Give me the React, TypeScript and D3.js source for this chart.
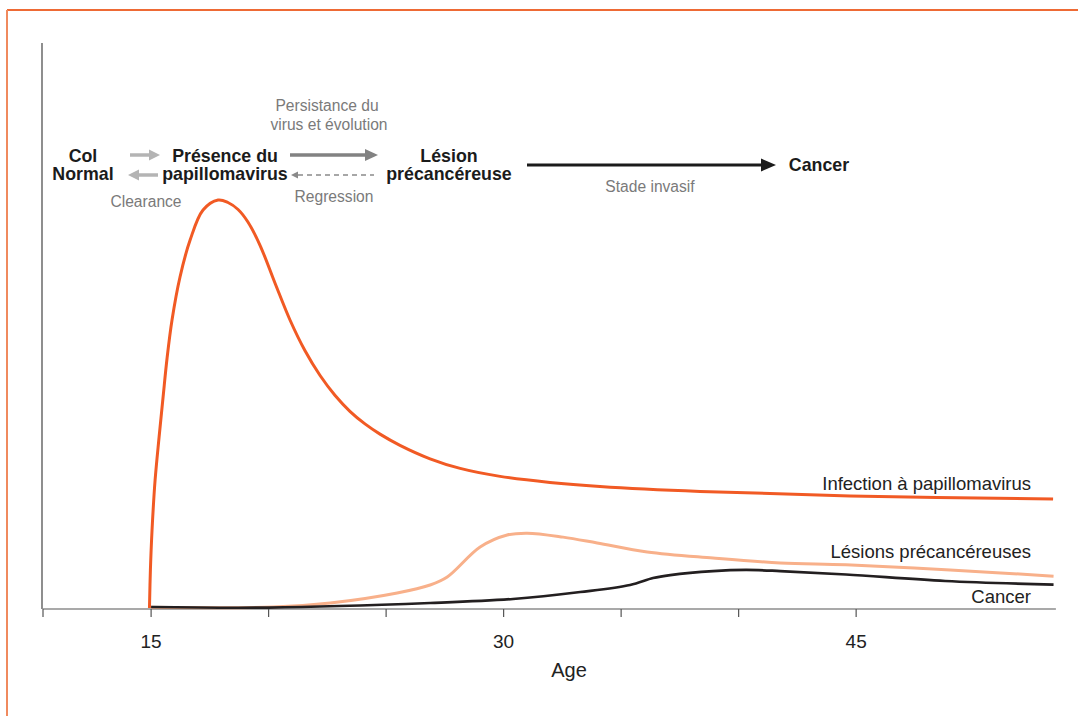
import React from "react";
import * as d3 from "d3";

// ---- Data (age in years, relative level) ----
const infectionAge = [14.93, 14.97, 15.04, 15.17, 15.34, 15.51, 15.68, 15.89, 16.23, 16.66, 17.21, 17.85, 18.27, 18.7, 19.12, 19.63, 20.27, 20.91, 21.55, 22.19, 22.83, 23.46, 24.1, 24.74, 25.59, 26.87, 28.15, 29.85, 31.97, 34.1, 38.36, 44.74, 53.38];
const infectionVal = [0.18, 6.89, 13.96, 22.79, 30.39, 37.46, 44.35, 51.06, 58.66, 65.19, 70.49, 72.26, 71.82, 70.58, 68.37, 64.31, 57.6, 51.06, 45.62, 41.25, 37.72, 34.93, 32.7, 30.9, 28.92, 26.54, 24.84, 23.43, 22.37, 21.66, 20.78, 19.98, 19.42];

const lesionAge = [15, 20.19, 22.62, 25.47, 26.87, 27.6, 29.0, 30.15, 31.0, 32.53, 33.98, 36.11, 38.91, 41.77, 44.57, 49.0, 53.4];
const lesionVal = [0.3, 0.35, 1.06, 2.83, 4.24, 5.65, 10.95, 13.07, 13.4, 12.7, 11.66, 10.07, 9.0, 8.13, 7.8, 6.9, 5.8];

const cancerAge = [15, 20, 26.87, 30.4, 33.26, 35.38, 36.36, 37.09, 38.91, 40.32, 41.77, 44.57, 48.79, 53.4];
const cancerVal = [0.35, 0.25, 1.06, 1.77, 3.0, 4.24, 5.48, 6.0, 6.7, 6.9, 6.7, 6.1, 4.95, 4.3];

const tickValues = [15, 20, 25, 30, 35, 40, 45];
const labeledTicks = [15, 30, 45];
const xTitle = "Age";

const seriesLabels = ["Infection à papillomavirus", "Lésions précancéreuses", "Cancer"];

const FONT = "'Liberation Sans', Arial, Helvetica, sans-serif";

export default function App() {
  const W = 1078, H = 716;
  const x = d3.scaleLinear().domain([10.4, 53.5]).range([43, 1055.9]);
  const y = d3.scaleLinear().domain([0, 100]).range([609, 43]);
  const line = d3.line<[number, number]>()
    .x((d) => x(d[0]))
    .y((d) => y(d[1]))
    .curve(d3.curveCatmullRom.alpha(0.5));

  const zip = (a: number[], b: number[]) => a.map((v, i) => [v, b[i]] as [number, number]);
  const infection = line(zip(infectionAge, infectionVal)) || "";
  const lesion = line(zip(lesionAge, lesionVal)) || "";
  const cancer = line(zip(cancerAge, cancerVal)) || "";

  const [x0, x1] = x.range();
  const axisY = y(0);

  const bold = { fontFamily: FONT, fontWeight: 700, fontSize: 17.8, fill: "#1b1b1b" } as const;
  const gray = { fontFamily: FONT, fontSize: 15.6, fill: "#7a7a7a" } as const;
  const lbl = { fontFamily: FONT, fontSize: 18.5, fill: "#222" } as const;

  return (
    <div style={{ position: "absolute", left: 0, top: 0, width: W, height: H, background: "#fff" }}>
      <svg width={W} height={H} style={{ display: "block" }}>
        {/* frame */}
        <line x1={7} y1={10} x2={W} y2={10} stroke="#ee6a35" strokeWidth={2} />
        <line x1={7} y1={10} x2={7} y2={H} stroke="#f08a5e" strokeWidth={2} />

        {/* y axis */}
        <line x1={42} y1={43} x2={42} y2={axisY} stroke="#444" strokeWidth={1.2} />
        {/* x axis */}
        <line x1={x0} y1={axisY} x2={x1} y2={axisY} stroke="#555" strokeWidth={1.2} />
        <line x1={x0} y1={axisY} x2={x0} y2={axisY + 8} stroke="#555" strokeWidth={1.2} />
        {tickValues.map((t) => (
          <line key={t} x1={x(t)} y1={axisY} x2={x(t)} y2={axisY + 8} stroke="#555" strokeWidth={1.2} />
        ))}
        {labeledTicks.map((t) => (
          <text key={t} x={x(t)} y={648} textAnchor="middle" style={{ fontFamily: FONT, fontSize: 19, fill: "#222" }}>
            {t}
          </text>
        ))}
        <text x={569} y={677} textAnchor="middle" style={{ fontFamily: FONT, fontSize: 20, fill: "#222" }}>
          {xTitle}
        </text>

        {/* curves */}
        <path d={lesion} fill="none" stroke="#f8b08a" strokeWidth={3} />
        <path d={cancer} fill="none" stroke="#231f20" strokeWidth={2.7} />
        <path d={infection} fill="none" stroke="#f15a24" strokeWidth={3} strokeLinejoin="round" />

        {/* curve labels */}
        <text x={1031} y={490} textAnchor="end" style={lbl}>{seriesLabels[0]}</text>
        <text x={1031} y={558} textAnchor="end" style={lbl}>{seriesLabels[1]}</text>
        <text x={1031} y={603} textAnchor="end" style={lbl}>{seriesLabels[2]}</text>

        {/* header diagram */}
        <text x={83} y={162} textAnchor="middle" style={bold}>Col</text>
        <text x={83} y={180} textAnchor="middle" style={bold}>Normal</text>

        {/* light arrows */}
        <line x1={130} y1={155} x2={150} y2={155} stroke="#b4b4b4" strokeWidth={3.5} />
        <polygon points="160,155 149,149.5 149,160.5" fill="#b4b4b4" />
        <line x1={138} y1={175} x2={158} y2={175} stroke="#b4b4b4" strokeWidth={3.5} />
        <polygon points="128,175 139,169.5 139,180.5" fill="#b4b4b4" />
        <text x={146} y={207} textAnchor="middle" style={gray}>Clearance</text>

        <text x={225} y={162} textAnchor="middle" style={bold}>Présence du</text>
        <text x={225} y={180} textAnchor="middle" style={bold}>papillomavirus</text>

        {/* persistence arrow */}
        <line x1={290} y1={155} x2={366} y2={155} stroke="#828282" strokeWidth={3.5} />
        <polygon points="378,155 365,149 365,161" fill="#828282" />
        <text x={327} y={111} textAnchor="middle" style={gray}>Persistance du</text>
        <text x={329} y={130} textAnchor="middle" style={gray}>virus et évolution</text>

        {/* regression dashed arrow */}
        <line x1={298} y1={175} x2={374} y2={175} stroke="#8a8a8a" strokeWidth={1.6} strokeDasharray="5,4" />
        <polygon points="291,175 298,171.5 298,178.5" fill="#8a8a8a" />
        <text x={334} y={202} textAnchor="middle" style={gray}>Regression</text>

        <text x={449} y={162} textAnchor="middle" style={bold}>Lésion</text>
        <text x={449} y={180} textAnchor="middle" style={bold}>précancéreuse</text>

        {/* invasive arrow */}
        <line x1={527} y1={165} x2={763} y2={165} stroke="#1b1b1b" strokeWidth={3.2} />
        <polygon points="776,165 761,158.5 761,171.5" fill="#1b1b1b" />
        <text x={650} y={192} textAnchor="middle" style={gray}>Stade invasif</text>

        <text x={819} y={171} textAnchor="middle" style={bold}>Cancer</text>
      </svg>
    </div>
  );
}
